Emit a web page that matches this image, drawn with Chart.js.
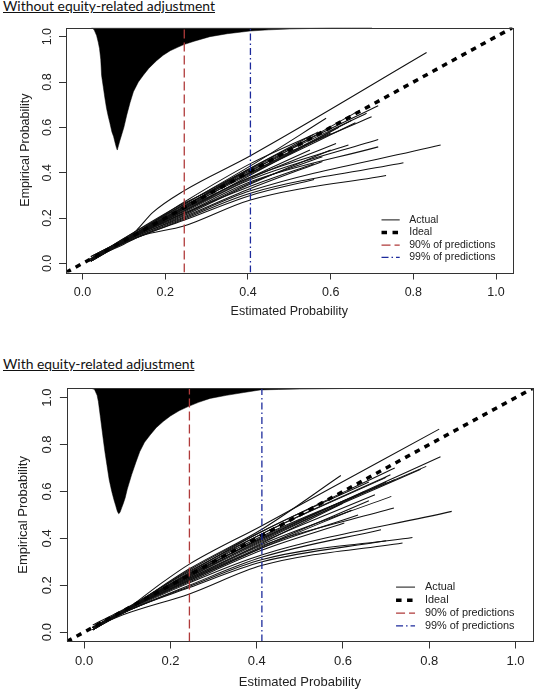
<!DOCTYPE html>
<html>
<head>
<meta charset="utf-8">
<script src="https://cdn.jsdelivr.net/npm/chart.js@4.4.0/dist/chart.umd.min.js"></script>
<style>
  body { margin: 0; background: #fff; width: 535px; height: 690px; position: relative; overflow: hidden; }
  .ttl { position: absolute; left: 3px; font-family: Lato, "Open Sans", sans-serif; font-size: 13.9px; color: #111; text-decoration: underline; white-space: nowrap; }
  canvas { position: absolute; left: 0; }
</style>
</head>
<body>
<div class="ttl" style="top:-3px">Without equity-related adjustment</div>
<canvas id="c1" width="535" height="320" style="top:16px"></canvas>
<div class="ttl" style="top:355px">With equity-related adjustment</div>
<canvas id="c2" width="535" height="318" style="top:372px"></canvas>
<script>
// shared
const tickValues = [0, 0.2, 0.4, 0.6, 0.8, 1.0];
const idealX = [-0.04, 1.04];
const legendLabels = ["Actual", "Ideal", "90% of predictions", "99% of predictions"];
const legendRowY = [0.192, 0.136, 0.081, 0.027];

// panel 1 - without adjustment
const histX1 = [0.022, 0.028, 0.034, 0.038, 0.041, 0.044, 0.046, 0.050, 0.054, 0.058, 0.062, 0.066, 0.071, 0.075, 0.079, 0.082, 0.084, 0.087, 0.090, 0.095, 0.100, 0.107, 0.115, 0.123, 0.135, 0.147, 0.160, 0.179, 0.195, 0.212, 0.230, 0.245, 0.270, 0.308, 0.350, 0.405, 0.450, 0.500, 0.550, 0.600, 0.650, 0.700];
const histY1 = [1.04, 1.03, 1.005, 0.975, 0.948, 0.90, 0.83, 0.78, 0.73, 0.684, 0.65, 0.62, 0.58, 0.56, 0.53, 0.51, 0.50, 0.52, 0.54, 0.57, 0.60, 0.655, 0.71, 0.757, 0.80, 0.83, 0.86, 0.894, 0.918, 0.938, 0.953, 0.965, 0.98, 1.0, 1.013, 1.025, 1.03, 1.034, 1.036, 1.038, 1.039, 1.04];
const cut90_1 = 0.246;
const cut99_1 = 0.406;
const curves1 = [
  [[0.02,0.01],[0.1,0.10],[0.13,0.145],[0.17,0.225],[0.245,0.32],[0.406,0.475],[0.832,0.93]],
  [[0.015,0.01],[0.1,0.11],[0.245,0.26],[0.406,0.43],[0.589,0.64]],
  [[0.02,0.02],[0.1,0.10],[0.245,0.25],[0.406,0.42],[0.715,0.695]],
  [[0.02,0.01],[0.1,0.10],[0.245,0.245],[0.406,0.41],[0.699,0.647]],
  [[0.025,0.02],[0.1,0.10],[0.245,0.25],[0.406,0.415],[0.687,0.662]],
  [[0.02,0.01],[0.1,0.095],[0.245,0.24],[0.406,0.405],[0.671,0.676]],
  [[0.02,0.02],[0.1,0.10],[0.245,0.255],[0.406,0.40],[0.65,0.63]],
  [[0.015,0.01],[0.1,0.10],[0.245,0.23],[0.406,0.39],[0.62,0.60]],
  [[0.02,0.02],[0.1,0.11],[0.245,0.265],[0.406,0.40],[0.60,0.575]],
  [[0.02,0.03],[0.1,0.105],[0.245,0.245],[0.406,0.395],[0.66,0.62]],
  [[0.02,0.01],[0.1,0.095],[0.245,0.225],[0.406,0.37],[0.715,0.547]],
  [[0.02,0.02],[0.1,0.10],[0.245,0.22],[0.406,0.36],[0.715,0.514]],
  [[0.02,0.02],[0.1,0.10],[0.245,0.235],[0.406,0.38],[0.643,0.522]],
  [[0.02,0.01],[0.1,0.10],[0.245,0.23],[0.406,0.375],[0.613,0.529]],
  [[0.02,0.02],[0.1,0.10],[0.245,0.215],[0.406,0.355],[0.58,0.47]],
  [[0.025,0.02],[0.1,0.095],[0.245,0.21],[0.406,0.35],[0.60,0.50]],
  [[0.02,0.01],[0.1,0.09],[0.245,0.20],[0.406,0.32],[0.866,0.522]],
  [[0.02,0.02],[0.1,0.09],[0.245,0.195],[0.406,0.31],[0.776,0.444]],
  [[0.02,0.02],[0.1,0.085],[0.14,0.12],[0.245,0.165],[0.406,0.28],[0.734,0.388]],
  [[0.02,0.01],[0.1,0.09],[0.245,0.19],[0.406,0.30],[0.56,0.37]],
  [[0.02,0.02],[0.1,0.10],[0.245,0.22],[0.406,0.34],[0.56,0.44]],
  [[0.02,0.03],[0.1,0.105],[0.245,0.26],[0.406,0.42],[0.57,0.58]],
  [[0.02,0.02],[0.1,0.10],[0.245,0.24],[0.406,0.38],[0.55,0.50]],
  [[0.02,0.01],[0.1,0.095],[0.245,0.205],[0.406,0.33],[0.58,0.45]],
  [[0.02,0.02],[0.1,0.10],[0.245,0.27],[0.406,0.44],[0.56,0.57]]
];

// panel 2 - with adjustment
const histX2 = [0.017, 0.024, 0.030, 0.033, 0.038, 0.043, 0.048, 0.053, 0.058, 0.064, 0.069, 0.073, 0.077, 0.080, 0.083, 0.087, 0.091, 0.095, 0.100, 0.110, 0.120, 0.129, 0.140, 0.153, 0.167, 0.183, 0.200, 0.220, 0.241, 0.265, 0.292, 0.330, 0.370, 0.408, 0.450, 0.500, 0.550, 0.600, 0.650, 0.700];
const histY2 = [1.04, 1.035, 1.01, 0.983, 0.912, 0.84, 0.77, 0.71, 0.65, 0.60, 0.565, 0.54, 0.515, 0.505, 0.51, 0.53, 0.55, 0.572, 0.61, 0.671, 0.725, 0.77, 0.81, 0.841, 0.872, 0.898, 0.922, 0.944, 0.962, 0.98, 0.997, 1.01, 1.022, 1.033, 1.035, 1.037, 1.038, 1.039, 1.04, 1.04];
const cut90_2 = 0.244;
const cut99_2 = 0.412;
const curves2 = [
  [[0.02,0.01],[0.1,0.10],[0.18,0.21],[0.244,0.29],[0.413,0.455],[0.823,0.866]],
  [[0.02,0.02],[0.1,0.10],[0.244,0.27],[0.413,0.44],[0.595,0.668]],
  [[0.02,0.01],[0.1,0.10],[0.244,0.25],[0.413,0.42],[0.71,0.671]],
  [[0.02,0.02],[0.1,0.10],[0.244,0.245],[0.413,0.40],[0.826,0.748]],
  [[0.02,0.01],[0.1,0.10],[0.244,0.24],[0.413,0.405],[0.793,0.707]],
  [[0.025,0.02],[0.1,0.10],[0.244,0.235],[0.413,0.395],[0.78,0.695]],
  [[0.02,0.02],[0.1,0.095],[0.244,0.24],[0.413,0.39],[0.70,0.64]],
  [[0.02,0.01],[0.1,0.10],[0.244,0.235],[0.413,0.385],[0.674,0.586]],
  [[0.02,0.02],[0.1,0.10],[0.244,0.23],[0.413,0.375],[0.712,0.579]],
  [[0.02,0.02],[0.1,0.10],[0.244,0.225],[0.413,0.37],[0.718,0.529]],
  [[0.02,0.01],[0.1,0.095],[0.244,0.22],[0.413,0.36],[0.635,0.50]],
  [[0.02,0.02],[0.1,0.095],[0.244,0.215],[0.413,0.35],[0.603,0.465]],
  [[0.02,0.01],[0.1,0.09],[0.244,0.21],[0.413,0.33],[0.852,0.515]],
  [[0.02,0.02],[0.1,0.09],[0.244,0.20],[0.413,0.32],[0.688,0.437]],
  [[0.02,0.02],[0.1,0.09],[0.244,0.195],[0.413,0.31],[0.761,0.404]],
  [[0.02,0.01],[0.1,0.09],[0.244,0.19],[0.413,0.30],[0.70,0.39]],
  [[0.02,0.02],[0.1,0.08],[0.244,0.163],[0.413,0.285],[0.738,0.38]],
  [[0.02,0.02],[0.1,0.10],[0.244,0.255],[0.413,0.43],[0.66,0.64]],
  [[0.02,0.03],[0.1,0.105],[0.244,0.26],[0.413,0.42],[0.70,0.66]],
  [[0.02,0.02],[0.1,0.10],[0.244,0.25],[0.413,0.41],[0.72,0.65]],
  [[0.02,0.01],[0.1,0.10],[0.244,0.23],[0.413,0.38],[0.60,0.55]],
  [[0.02,0.02],[0.1,0.10],[0.244,0.22],[0.413,0.36],[0.62,0.52]],
  [[0.02,0.02],[0.1,0.095],[0.244,0.225],[0.413,0.365],[0.66,0.56]],
  [[0.025,0.02],[0.1,0.10],[0.244,0.245],[0.413,0.40],[0.65,0.60]],
  [[0.02,0.02],[0.1,0.10],[0.244,0.265],[0.413,0.43],[0.72,0.70]]
];

const RED = "#b03a3a";
const BLUE = "#1c2a9c";
const legendStyles = [
  { color: "#111", width: 1, dash: [] },
  { color: "#000", width: 3.5, dash: [5.5, 5.5] },
  { color: RED, width: 1.3, dash: [9, 4] },
  { color: BLUE, width: 1.3, dash: [7, 3, 1.5, 3] }
];

// box around plot region + R style legend
const rBoxPlugin = {
  id: "rBox",
  afterDraw(chart, args, opts) {
    const { ctx, chartArea: a, scales } = chart;
    ctx.save();
    ctx.strokeStyle = "#333";
    ctx.lineWidth = 1;
    ctx.strokeRect(Math.round(a.left) + 0.5, Math.round(a.top) + 0.5, Math.round(a.right - a.left), Math.round(a.bottom - a.top));
    ctx.font = opts.fontSize + 'px "Liberation Sans", Arial, sans-serif';
    ctx.textBaseline = "middle";
    ctx.textAlign = "left";
    legendLabels.forEach((lab, i) => {
      const yy = scales.y.getPixelForValue(legendRowY[i]);
      const st = legendStyles[i];
      ctx.beginPath();
      ctx.setLineDash(st.dash);
      ctx.lineWidth = st.width;
      ctx.strokeStyle = st.color;
      ctx.moveTo(scales.x.getPixelForValue(0.723), yy);
      ctx.lineTo(scales.x.getPixelForValue(0.767), yy);
      ctx.stroke();
      ctx.setLineDash([]);
      ctx.fillStyle = "#222";
      ctx.fillText(lab, scales.x.getPixelForValue(0.79), yy);
    });
    ctx.restore();
  }
};

function makeChart(id, p) {
  const datasets = [];
  datasets.push({
    data: p.histX.map((x, i) => ({ x: x, y: p.histY[i] })),
    fill: "end", backgroundColor: "#000", borderColor: "#000", borderWidth: 0.5,
    pointRadius: 0, order: 3
  });
  p.curves.forEach((c) => {
    datasets.push({
      data: c.map(([x, y]) => ({ x: x, y: y })),
      borderColor: "#111", borderWidth: 1.05, pointRadius: 0, fill: false, order: 2,
      cubicInterpolationMode: "monotone"
    });
  });
  datasets.push({
    data: idealX.map((v) => ({ x: v, y: v })),
    borderColor: "#000", borderWidth: 3.5, borderDash: [5.5, 5.5], pointRadius: 0, fill: false, order: 1
  });
  datasets.push({
    data: [{ x: p.cut90, y: -0.04 }, { x: p.cut90, y: 1.04 }],
    borderColor: RED, borderWidth: 1.3, borderDash: [9, 4], pointRadius: 0, fill: false, order: 0
  });
  datasets.push({
    data: [{ x: p.cut99, y: -0.04 }, { x: p.cut99, y: 1.04 }],
    borderColor: BLUE, borderWidth: 1.3, borderDash: [7, 3, 1.5, 3], pointRadius: 0, fill: false, order: 0
  });

  const font = { family: '"Liberation Sans", Arial, sans-serif', size: p.fontSize };
  const grid = { display: true, drawOnChartArea: false, drawTicks: true, tickLength: 7, color: "#333", lineWidth: 1 };

  new Chart(document.getElementById(id), {
    type: "line",
    data: { datasets: datasets },
    plugins: [rBoxPlugin],
    options: {
      responsive: false,
      animation: false,
      devicePixelRatio: 1,
      layout: { padding: { left: 0, right: p.padR, top: p.padT, bottom: 0 } },
      plugins: {
        legend: { display: false },
        tooltip: { enabled: false },
        rBox: { fontSize: p.legendSize }
      },
      scales: {
        x: {
          type: "linear", min: -0.04, max: 1.04,
          afterBuildTicks: (s) => { s.ticks = tickValues.map((v) => ({ value: v })); },
          afterFit: (s) => { s.height = p.xAxisH; },
          ticks: { autoSkip: false, maxRotation: 0, color: "#222", font: font, padding: p.xTickPad, callback: (v) => v.toFixed(1) },
          grid: grid,
          border: { display: false },
          title: { display: true, text: "Estimated Probability", color: "#222", font: font, padding: { top: 0, bottom: p.xTitlePad } }
        },
        y: {
          type: "linear", min: -0.04, max: 1.04,
          afterBuildTicks: (s) => { s.ticks = tickValues.map((v) => ({ value: v })); },
          afterFit: (s) => { s.width = p.left; },
          ticks: { autoSkip: false, minRotation: 90, maxRotation: 90, crossAlign: "center", color: "#222", font: font, padding: p.yTickPad, callback: (v) => v.toFixed(1) },
          grid: grid,
          border: { display: false },
          title: { display: true, text: "Empirical Probability", color: "#222", font: font, padding: { top: p.yTitlePad, bottom: 0 } }
        }
      }
    }
  });
}

makeChart("c1", {
  histX: histX1, histY: histY1, curves: curves1, cut90: cut90_1, cut99: cut99_1,
  fontSize: 12.5, legendSize: 10.5,
  left: 66, padR: 22.4, padT: 11.6, xAxisH: 63.5,
  xTickPad: 6, xTitlePad: 16.8, yTickPad: 2.6, yTitlePad: 18
});

makeChart("c2", {
  histX: histX2, histY: histY2, curves: curves2, cut90: cut90_2, cut99: cut99_2,
  fontSize: 13, legendSize: 10.9,
  left: 66.9, padR: 2.2, padT: 16.3, xAxisH: 48.5,
  xTickPad: 5.5, xTitlePad: 0, yTickPad: 3.2, yTitlePad: 16
});
</script>
</body>
</html>
